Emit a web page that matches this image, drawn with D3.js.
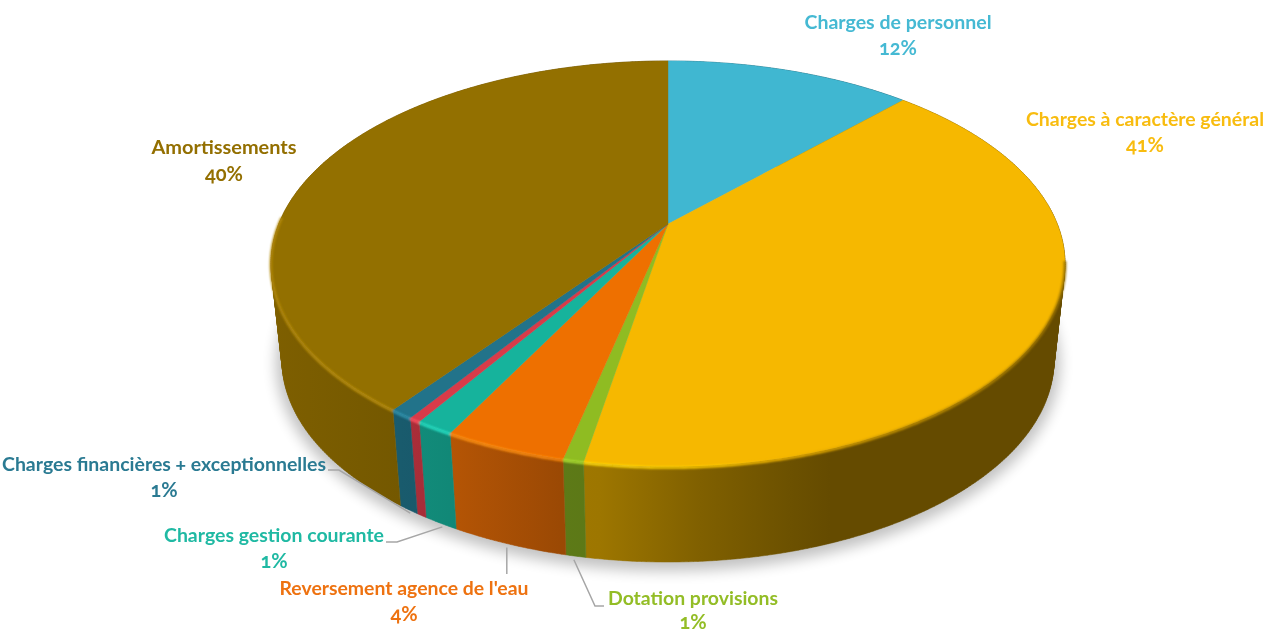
<!DOCTYPE html>
<html><head><meta charset="utf-8">
<script src="https://cdn.jsdelivr.net/npm/d3@7/dist/d3.min.js"></script>
<style>html,body{margin:0;padding:0;background:#fff;overflow:hidden}svg{display:block}
text{font-family:Lato,"Open Sans",sans-serif;font-weight:700;font-feature-settings:"onum" 1;text-anchor:middle}</style>
</head><body><svg id="c" width="1267" height="633"></svg>
<script>
// ---- data, clockwise from twelve o'clock
const categories = ["Charges de personnel","Charges à caractère général","Dotation provisions","Reversement agence de l'eau","Charges gestion courante","","Charges financières + exceptionnelles","Amortissements"];
const values = [12.1,40.7,0.7,4.15,1.3,0.4,0.8,39.85];
const percentLabels = ["12%","41%","1%","4%","1%","","1%","40%"];
const colors = ["#3FB7D1","#F6B800","#8FBC24","#EE7006","#17B39C","#D83A48","#20738A","#936F00"];
const textColors = ["#45B9D3","#F8BC0F","#93BD26","#EE7210","#1FB9A3","#D83A48","#2A7A92","#936F00"];

// ---- label layout (centre x, name baseline, name width, gap to the percent line)
const labelX = [898,1145,693,404,274,0,164,224];
const labelY = [29,126,605,595,542,0,471,154];
const labelW = [187,238,170,249,220,0,324,145];
const labelGap = [26,26,23.5,26,26,0,26,27];
const labelSize = 19.5, percentSize = 20;

// ---- projection of the disc: perspective view of a cylinder
const persp = 0.196;
const topFace = {cx:668, cy:224, ax:389.3, ay:195};
const botFace = {cx:668, cy:320.5, ax:378.5, ay:194.2};
function project(face, a){
  const X = Math.sin(a), Y = Math.cos(a), w = 1 + persp*Y;
  return [face.cx + face.ax*X/w, face.cy - face.ay*Y/w];
}
const steps = (a0,a1) => { const n = Math.max(2, Math.ceil((a1-a0)/0.01)); return d3.range(n+1).map(i => a0+(a1-a0)*i/n); };
const arcPts = (face,a0,a1) => steps(a0,a1).map(a=>project(face,a));
const line = d3.line();

// a wall is the union of small quads, all wound the same way
function wallPath(a0,a1){
  const as = steps(a0,a1); let s = "";
  for(let i=0;i<as.length-1;i++){
    let q = [project(topFace,as[i]),project(topFace,as[i+1]),project(botFace,as[i+1]),project(botFace,as[i])];
    if(d3.polygonArea(q)<0) q = q.reverse();
    s += line(q)+"Z";
  }
  return s;
}

// wall shading across the width of the picture
const shadeX = [270,400,450,560,600,700,790,830,1065];
const shadeK = [0.86,0.79,0.76,0.65,0.64,0.52,0.44,0.41,0.41];
const rimX = [270,330,500,700,780,900,1065];
const rimK = [1.14,1.18,1.2,1.08,0.98,0.8,0.62];
const mult = (c,k) => { const r=d3.rgb(c), e=k>1?(k-1)*60:0; return d3.rgb(Math.min(255,r.r*k+e),Math.min(255,r.g*k+e),Math.min(255,r.b*k+e)).formatHex(); };

const pie = d3.pie().sort(null).startAngle(0).endAngle(2*Math.PI).value(d=>d);
const arcs = pie(values);
const svg = d3.select("#c"), defs = svg.append("defs");

function gradient(id,xs,ks,c){
  const g = defs.append("linearGradient").attr("id",id).attr("gradientUnits","userSpaceOnUse")
    .attr("x1",xs[0]).attr("x2",xs[xs.length-1]).attr("y1",0).attr("y2",0);
  const sx = d3.scaleLinear().domain([xs[0],xs[xs.length-1]]).range([0,1]);
  xs.forEach((x,i)=>g.append("stop").attr("offset",sx(x)).attr("stop-color",mult(c,ks[i])));
}
colors.forEach((c,i)=>{ gradient("wall"+i,shadeX,shadeK,c); gradient("rim"+i,rimX,rimK,c); });
const blur=(id,s)=>defs.append("filter").attr("id",id).attr("x","-10%").attr("y","-10%").attr("width","120%").attr("height","120%")
  .append("feGaussianBlur").attr("stdDeviation",s);
blur("shadow",7); blur("rimBlur",0.9); blur("soft",0.45);

// shadow under the disc
svg.append("path").attr("d",line(arcPts(botFace,0,2*Math.PI))+"Z")
  .attr("transform","translate(0,3)")
  .attr("fill","#000").attr("stroke","#000").attr("stroke-width",12).attr("opacity",0.24).attr("filter","url(#shadow)");

// outer walls
svg.append("g").selectAll("path").data(arcs).join("path")
  .attr("d",d=>wallPath(d.startAngle,d.endAngle))
  .attr("fill",(d,i)=>`url(#wall${i})`).attr("stroke",(d,i)=>`url(#wall${i})`).attr("stroke-width",0.5);

// top faces
svg.append("g").attr("filter","url(#soft)").selectAll("path").data(arcs).join("path")
  .attr("d",d=>line([[topFace.cx,topFace.cy]].concat(arcPts(topFace,d.startAngle,d.endAngle)))+"Z")
  .attr("fill",(d,i)=>colors[i]).attr("stroke",(d,i)=>colors[i]).attr("stroke-width",0.4);

// bevel along the front rim
const rimFrom = 1.75, rimTo = 4.75;
svg.append("g").attr("filter","url(#rimBlur)").attr("fill","none").selectAll("path").data(arcs).join("path")
  .attr("d",d=>{const a0=Math.max(d.startAngle,rimFrom),a1=Math.min(d.endAngle,rimTo);
     return a1>a0?line(arcPts(topFace,a0,a1)):null;})
  .attr("stroke",(d,i)=>`url(#rim${i})`).attr("stroke-width",2.6).attr("transform","translate(0,1)");

// leader lines
const leaderSeries = [2,3,4,6];
const midAngle = d => (d.startAngle+d.endAngle)/2;
function leaderPts(i){
  const e = project(botFace,midAngle(arcs[i])), end=[e[0]+(i<4&&i!==4?-2:1.5),e[1]+3.5];
  const lx=labelX[i], ly=labelY[i], w=labelW[i];
  if(i===2) return [end,[lx-w/2-13,ly+1],[lx-w/2-4,ly+1]];
  if(i===3) return [end,[end[0],ly-21]];
  return [[lx+w/2+2,ly-1+(i===4?1:0)],[lx+w/2+13,ly-1+(i===4?1:0)],end];
}
svg.append("g").attr("fill","none").attr("stroke","#A6A6A6").attr("stroke-width",1.5)
  .selectAll("path").data(leaderSeries).join("path").attr("d",i=>line(leaderPts(i)));

// labels
const shown = categories.map((c,i)=>i).filter(i=>categories[i]);
const g = svg.append("g");
g.selectAll("text.n").data(shown).join("text").attr("class","n")
  .attr("x",i=>labelX[i]).attr("y",i=>labelY[i]).attr("fill",i=>textColors[i]).attr("font-size",labelSize)
  .attr("textLength",i=>labelW[i]).attr("lengthAdjust","spacingAndGlyphs").text(i=>categories[i]);
g.selectAll("text.p").data(shown).join("text").attr("class","p")
  .attr("x",i=>labelX[i]).attr("y",i=>labelY[i]+labelGap[i]).attr("fill",i=>textColors[i]).attr("font-size",percentSize)
  .text(i=>percentLabels[i]);
</script></body></html>
